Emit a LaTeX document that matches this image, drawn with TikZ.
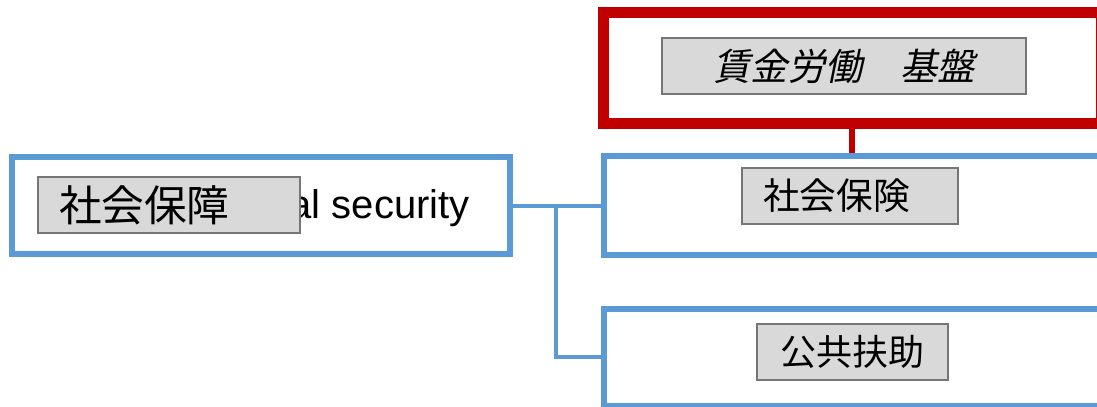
\documentclass[tikz,border=0pt]{standalone}
\usepackage{fontspec}
\setmainfont{Liberation Sans}
\newfontfamily\jpfont{Noto Sans CJK JP}
\newfontfamily\jpslant[FakeSlant=0.2]{Noto Sans CJK JP}
\definecolor{boxblue}{HTML}{5B9BD5}
\definecolor{boxred}{HTML}{C00000}
\definecolor{tagfill}{HTML}{D9D9D9}
\definecolor{taggray}{HTML}{767676}

\begin{document}
\begin{tikzpicture}[x=0.75pt, y=-0.75pt,
    bluebox/.style={draw=boxblue, line width=4.5pt, inner sep=0pt, minimum width=372pt},
    redbox/.style={draw=boxred, line width=8.25pt, inner sep=0pt},
    tag/.style={draw=taggray, fill=tagfill, line width=1.5pt, inner sep=0pt, minimum height=42pt},
    link/.style={draw=boxblue, line width=3pt}]
       \useasboundingbox (0,0) rectangle (1097,407);
       \clip (0,0) rectangle (1097,407);
       % left box
       \node[bluebox, minimum width=373.5pt, minimum height=72.75pt] (ss) at (261,205.5) {};
       \node[anchor=base east, inner sep=0pt, font=\fontsize{30}{36}\selectfont] (ssen) at (470,218) {al security};
       \node[tag, text width=165pt, inner xsep=15.75pt, align=left, font=\jpfont\fontsize{32}{38}\selectfont] (sslab) at (169,205) {社会保障};
       % right boxes
       \node[redbox, minimum width=373.5pt, minimum height=82.9pt] (wage) at (852,67.75) {};
       \node[tag, minimum width=273pt, font=\jpslant\fontsize{28}{34}\selectfont] (wagelab) at (844,66) {賃金労働　基盤};
       \node[bluebox, minimum height=74.25pt] (ins) at (852,205) {};
       \node[tag, text width=130.5pt, inner xsep=15.75pt, align=left, font=\jpfont\fontsize{27.5}{33}\selectfont] (inslab) at (850,195.5) {社会保険};
       \node[bluebox, minimum height=73.1pt] (aid) at (852,357.25) {};
       \node[tag, minimum width=143pt, font=\jpfont\fontsize{27}{32}\selectfont] (aidlab) at (852.5,352) {公共扶助};
       % connectors
       \coordinate (fork) at (556,205);
       \path[draw=boxred, line width=4.5pt] (wage.south)--(ins.north);
       \path[link] (ss.east)--(ss.east -| ins.west);
       \path[link] (fork)|-(aid.west);
\end{tikzpicture}
\end{document}
